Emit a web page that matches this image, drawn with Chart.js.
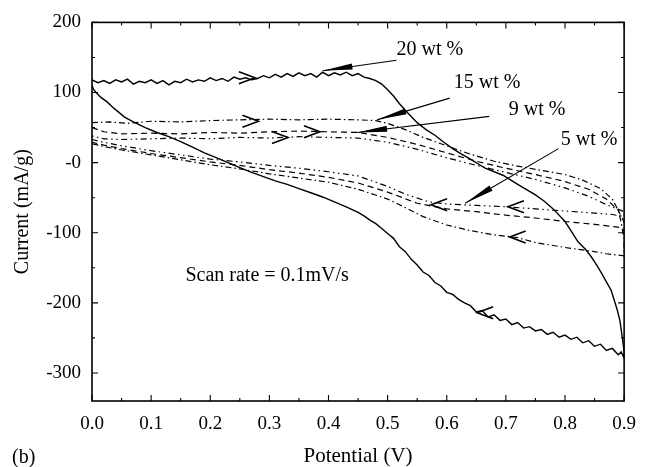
<!DOCTYPE html>
<html>
<head>
<meta charset="utf-8">
<script src="https://cdn.jsdelivr.net/npm/chart.js@4.4.1/dist/chart.umd.min.js"></script>
<style>
  html, body { margin: 0; padding: 0; background: #fff; }
  #wrap { width: 648px; height: 467px; position: relative; }
</style>
</head>
<body>
<div id="wrap"><canvas id="cv"></canvas></div>
<script>
// 20 wt % (solid) : forward scan then reverse scan
const wt20X = [
  0, 0.01, 0.02, 0.03, 0.04, 0.05, 0.06, 0.07, 0.08, 0.09,
  0.10, 0.11, 0.12, 0.13, 0.14, 0.15, 0.16, 0.17, 0.18, 0.19,
  0.20, 0.21, 0.22, 0.23, 0.24, 0.25, 0.26, 0.27, 0.28, 0.29,
  0.30, 0.31, 0.32, 0.33, 0.34, 0.35, 0.36, 0.37, 0.38, 0.39,
  0.40, 0.41, 0.42, 0.43, 0.44, 0.45, 0.46, 0.47, 0.48, 0.49,
  0.50, 0.51, 0.52, 0.535, 0.55, 0.565, 0.58, 0.595, 0.61, 0.625,
  0.64, 0.665, 0.695, 0.72, 0.75, 0.765, 0.78, 0.80, 0.81, 0.822,
  0.835, 0.845, 0.855, 0.862, 0.87, 0.878, 0.884, 0.889, 0.893, 0.897, 0.9,
  0.9, 0.895, 0.89,
  0.88, 0.87, 0.86, 0.85, 0.84, 0.83, 0.82, 0.81, 0.80, 0.79,
  0.78, 0.77, 0.76, 0.75, 0.74, 0.73, 0.72, 0.71, 0.70, 0.69,
  0.68, 0.67, 0.66, 0.65, 0.64, 0.63, 0.62, 0.61, 0.60, 0.59,
  0.58, 0.57, 0.56, 0.55, 0.54, 0.53, 0.52, 0.51, 0.50, 0.49,
  0.48, 0.47, 0.46, 0.45,
  0.43, 0.41, 0.39, 0.37, 0.35, 0.33, 0.31, 0.29, 0.27, 0.25,
  0.23, 0.21, 0.19, 0.17, 0.15, 0.13, 0.11, 0.09, 0.07, 0.055,
  0.045, 0.035, 0.025, 0.015, 0.008, 0.003, 0
];
const wt20Y = [
  118, 114, 117, 113, 118, 115, 119, 112, 116, 114,
  118, 113, 117, 111, 116, 114, 119, 115, 118, 116,
  121, 117, 120, 116, 122, 119, 121, 118, 120, 124,
  121, 126, 122, 127, 123, 128, 124, 127, 122, 129,
  124, 128, 125, 129, 124, 127, 122, 120, 117, 112,
  104, 95, 84, 70, 57, 47, 39, 29, 20, 12,
  5, -8, -18, -31, -46, -55, -66, -84, -97, -113,
  -124, -135, -148, -158, -170, -182, -198, -212, -226, -250, -270,
  -279, -270, -274,
  -265, -268, -259, -262, -254, -257, -249, -252, -246, -249,
  -242, -245, -238, -240, -234, -236, -228, -231, -223, -225,
  -217, -220, -211, -213, -204, -200, -195, -188, -185, -176,
  -171, -161, -156, -146, -138, -127, -120, -108, -101, -94,
  -87, -82, -76, -71,
  -63, -56, -49, -43, -37, -31, -26, -20, -14, -7,
  0, 7, 14, 22, 30, 37, 43, 50, 58, 65,
  72, 79, 87, 93, 99, 104, 110
];

// 15 wt % (dash-dot)
const wt15X = [0, 0.03, 0.06, 0.1, 0.15, 0.2, 0.25, 0.3, 0.35, 0.4, 0.45, 0.48,
  0.5, 0.53, 0.56, 0.6, 0.64, 0.68, 0.72, 0.76, 0.8, 0.83, 0.86, 0.88, 0.89, 0.895, 0.9,
  0.9, 0.87, 0.85, 0.8, 0.75, 0.72, 0.68, 0.64, 0.6, 0.56, 0.52, 0.5, 0.45, 0.4,
  0.35, 0.3, 0.25, 0.2, 0.15, 0.1, 0.05, 0.02, 0];
const wt15Y = [57, 58, 56, 59, 58, 60, 61, 62, 61, 62, 61, 60,
  56, 47, 36, 24, 12, 2, -5, -11, -17, -25, -37, -52, -68, -85, -110,
  -133, -130, -127, -121, -114, -107, -103, -97, -89, -77, -60, -52, -38, -28,
  -22, -16, -9, -3, 4, 11, 18, 23, 27];

// 9 wt % (dashed)
const wt9X = [0, 0.02, 0.05, 0.1, 0.15, 0.2, 0.25, 0.3, 0.35, 0.4, 0.45,
  0.5, 0.55, 0.6, 0.65, 0.7, 0.75, 0.8, 0.84, 0.87, 0.89, 0.9,
  0.9, 0.89, 0.85, 0.8, 0.75, 0.7, 0.65, 0.6, 0.55, 0.5, 0.45, 0.4,
  0.35, 0.3, 0.25, 0.2, 0.15, 0.1, 0.05, 0.02, 0];
const wt9Y = [50, 44, 41, 42, 41, 43, 42, 44, 45, 44, 43,
  36, 26, 14, 2, -8, -17, -27, -38, -52, -68, -85,
  -98, -92, -88, -84, -79, -75, -70, -66, -58, -42, -29, -21,
  -15, -10, -4, 1, 7, 13, 20, 25, 29];

// 5 wt % (dash-dot-dot)
const wt5X = [0, 0.02, 0.05, 0.1, 0.15, 0.2, 0.25, 0.3, 0.35, 0.4, 0.45,
  0.5, 0.55, 0.6, 0.65, 0.7, 0.75, 0.8, 0.84, 0.87, 0.9,
  0.9, 0.88, 0.85, 0.8, 0.75, 0.7, 0.65, 0.6, 0.57, 0.53, 0.5, 0.45, 0.4,
  0.35, 0.3, 0.25, 0.2, 0.15, 0.1, 0.05, 0.02, 0];
const wt5Y = [38, 34, 33, 34, 35, 34, 36, 35, 37, 36, 35,
  29, 19, 7, -4, -14, -24, -36, -48, -60, -70,
  -77, -74, -72, -69, -66, -63, -61, -59, -56, -45, -34, -19, -13,
  -8, -4, 1, 5, 11, 17, 24, 29, 33];

const xMajor = [0, 0.1, 0.2, 0.3, 0.4, 0.5, 0.6, 0.7, 0.8, 0.9];
const xMinor = [0.05, 0.15, 0.25, 0.35, 0.45, 0.55, 0.65, 0.75, 0.85];
const yMajor = [-300, -200, -100, 0, 100, 200];
const yMinor = [-250, -150, -50, 50, 150];

// direction chevrons on the loops
const chevrons = [
  { x: 0.262, y: 121, dir: 1 },
  { x: 0.268, y: 59, dir: 1 },
  { x: 0.318, y: 36, dir: 1 },
  { x: 0.372, y: 44, dir: 1 },
  { x: 0.665, y: -214, dir: -1 },
  { x: 0.587, y: -60, dir: -1 },
  { x: 0.717, y: -63, dir: -1 },
  { x: 0.72, y: -106, dir: -1 }
];

// labels with pointer arrows
const callouts = [
  { text: '20 wt %', tx: 0.515, ty: 161, sx: 0.515, sy: 146, ex: 0.390, ey: 131 },
  { text: '15 wt %', tx: 0.612, ty: 114, sx: 0.605, sy: 92, ex: 0.482, ey: 61 },
  { text: '9 wt %', tx: 0.705, ty: 76, sx: 0.672, sy: 66, ex: 0.4485, ey: 43 },
  { text: '5 wt %', tx: 0.793, ty: 32, sx: 0.789, sy: 20, ex: 0.631, ey: -58 }
];

const serif = '"Liberation Serif", "DejaVu Serif", serif';
Chart.defaults.font.family = serif;
Chart.defaults.color = '#000';

const pts = (xs, ys) => xs.map((x, i) => ({ x, y: ys[i] }));

const decorations = {
  id: 'decorations',
  afterDatasetsDraw(chart) {
    const { ctx, chartArea: a, scales: { x, y } } = chart;
    ctx.save();
    ctx.strokeStyle = '#000';
    ctx.fillStyle = '#000';

    // frame
    ctx.lineWidth = 1.6;
    ctx.strokeRect(a.left, a.top, a.right - a.left, a.bottom - a.top);

    // inward ticks on all four sides
    ctx.lineWidth = 1.1;
    ctx.beginPath();
    const xt = (v, len) => {
      const px = x.getPixelForValue(v);
      ctx.moveTo(px, a.bottom); ctx.lineTo(px, a.bottom - len);
      ctx.moveTo(px, a.top); ctx.lineTo(px, a.top + len);
    };
    const yt = (v, len) => {
      const py = y.getPixelForValue(v);
      ctx.moveTo(a.left, py); ctx.lineTo(a.left + len, py);
      ctx.moveTo(a.right, py); ctx.lineTo(a.right - len, py);
    };
    xMajor.forEach(v => xt(v, 6));
    xMinor.forEach(v => xt(v, 3));
    yMajor.forEach(v => yt(v, 6));
    yMinor.forEach(v => yt(v, 3));
    ctx.stroke();

    // chevrons
    ctx.lineWidth = 1.6;
    chevrons.forEach(c => {
      const px = x.getPixelForValue(c.x);
      const py = y.getPixelForValue(c.y);
      ctx.beginPath();
      ctx.moveTo(px - c.dir * 8, py - 6);
      ctx.lineTo(px + c.dir * 8, py);
      ctx.lineTo(px - c.dir * 8, py + 6);
      ctx.stroke();
    });

    // callouts
    ctx.font = '20px ' + serif;
    ctx.textBaseline = 'middle';
    ctx.textAlign = 'left';
    callouts.forEach(c => {
      const sx = x.getPixelForValue(c.sx), sy = y.getPixelForValue(c.sy);
      const ex = x.getPixelForValue(c.ex), ey = y.getPixelForValue(c.ey);
      ctx.lineWidth = 1.1;
      ctx.beginPath();
      ctx.moveTo(sx, sy); ctx.lineTo(ex, ey);
      ctx.stroke();
      const ang = Math.atan2(sy - ey, sx - ex);
      const L = 30, w = 3;
      const bx = ex + Math.cos(ang) * L, by = ey + Math.sin(ang) * L;
      ctx.beginPath();
      ctx.moveTo(ex, ey);
      ctx.lineTo(bx - Math.sin(ang) * w, by + Math.cos(ang) * w);
      ctx.lineTo(bx + Math.sin(ang) * w, by - Math.cos(ang) * w);
      ctx.closePath();
      ctx.fill();
      ctx.fillText(c.text, x.getPixelForValue(c.tx), y.getPixelForValue(c.ty));
    });

    ctx.fillText('Scan rate = 0.1mV/s', x.getPixelForValue(0.158), y.getPixelForValue(-162));
    ctx.fillText('(b)', 12, 458);
    ctx.restore();
  }
};

const line = (label, xs, ys, dash, width) => ({
  label,
  data: pts(xs, ys),
  showLine: true,
  borderColor: '#000',
  borderWidth: width,
  borderDash: dash,
  pointRadius: 0,
  fill: false,
  tension: 0
});

new Chart(document.getElementById('cv').getContext('2d'), {
  type: 'scatter',
  data: {
    datasets: [
      line('20 wt %', wt20X, wt20Y, [], 1.4),
      line('15 wt %', wt15X, wt15Y, [6, 3, 1.5, 3], 1.2),
      line('9 wt %', wt9X, wt9Y, [6, 4], 1.2),
      line('5 wt %', wt5X, wt5Y, [1.5, 3.5, 1.5, 3.5, 6, 3.5], 1.2)
    ]
  },
  options: {
    responsive: true,
    maintainAspectRatio: false,
    animation: false,
    layout: { padding: { top: 19, right: 14, left: 0, bottom: 0 } },
    plugins: { legend: { display: false }, tooltip: { enabled: false } },
    scales: {
      x: {
        type: 'linear',
        min: 0,
        max: 0.9,
        afterFit: s => { s.height = 66; },
        afterBuildTicks: s => { s.ticks = xMajor.map(v => ({ value: v })); },
        grid: { display: false, drawTicks: false },
        border: { display: false },
        ticks: {
          padding: 12,
          font: { size: 19 },
          color: '#000',
          maxRotation: 0,
          callback: v => v.toFixed(1)
        },
        title: {
          display: true,
          text: 'Potential (V)',
          font: { size: 21, lineHeight: 1 },
          color: '#000',
          padding: 0
        }
      },
      y: {
        type: 'linear',
        min: -340,
        max: 200,
        afterFit: s => { s.width = 92; },
        afterBuildTicks: s => { s.ticks = yMajor.map(v => ({ value: v })); },
        grid: { display: false, drawTicks: false },
        border: { display: false },
        ticks: {
          padding: 11,
          font: { size: 19 },
          color: '#000',
          callback: v => (v === 0 ? '-0' : String(v))
        },
        title: {
          display: true,
          text: 'Current (mA/g)',
          font: { size: 20, lineHeight: 1.2 },
          color: '#000',
          padding: { top: 11, bottom: 0 }
        }
      }
    }
  },
  plugins: [decorations]
});
</script>
</body>
</html>
